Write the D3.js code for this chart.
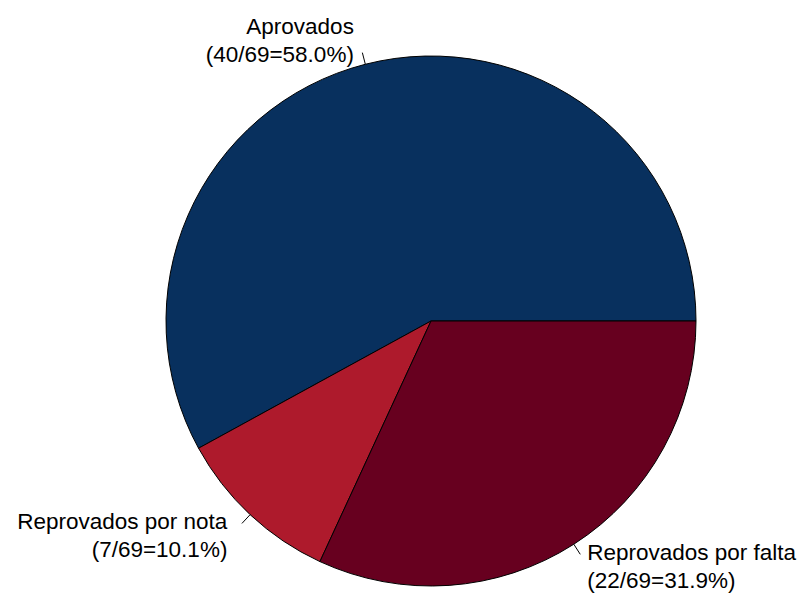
<!DOCTYPE html>
<html><head><meta charset="utf-8">
<script src="https://cdn.jsdelivr.net/npm/d3@7"></script>
<style>body{margin:0;background:#fff}</style></head>
<body><svg id="c" width="802" height="595"></svg>
<script>
const categories = ["Aprovados", "Reprovados por nota", "Reprovados por falta"];
const counts = [40, 7, 22];
const total = 69;
const colors = ["#08305e", "#ae1a2c", "#67001f"];

const svg = d3.select("#c");
const cx = 431, cy = 321, r = 265;
const g = svg.append("g").attr("transform", `translate(${cx},${cy})`);
const pie = d3.pie().sort(null).value(d => d)
  .startAngle(Math.PI / 2).endAngle(Math.PI / 2 - 2 * Math.PI);
const arcs = pie(counts);
const arc = d3.arc().innerRadius(0).outerRadius(r);
g.selectAll("path").data(arcs).join("path")
  .attr("d", arc).attr("fill", (d, i) => colors[i])
  .attr("stroke", "#000").attr("stroke-width", 1);

const font = "'Liberation Sans', Arial, sans-serif";
arcs.forEach((d, i) => {
  const a = (d.startAngle + d.endAngle) / 2;
  const sx = Math.sin(a), sy = -Math.cos(a);
  const x1 = sx * r, y1 = sy * r, x2 = sx * (r + 12), y2 = sy * (r + 12);
  g.append("line").attr("x1", x1).attr("y1", y1).attr("x2", x2).attr("y2", y2)
    .attr("stroke", "#000").attr("stroke-width", 1);
  const left = sx < 0;
  const tx = x2 + (left ? -(5 + 14 * Math.abs(sx)) : 7);
  const pct = (100 * counts[i] / total).toFixed(1);
  const lines = [categories[i], `(${counts[i]}/${total}=${pct}%)`];
  let by;
  if (sy < 0) by = y2 - 28 + 9; else by = y2 + 6;
  const t = g.append("text").attr("font-family", font).attr("font-size", 22.5)
    .attr("fill", "#000").attr("text-anchor", left ? "end" : "start");
  lines.forEach((s, k) => t.append("tspan").attr("x", tx).attr("y", by + k * 28).text(s));
});
</script></body></html>
